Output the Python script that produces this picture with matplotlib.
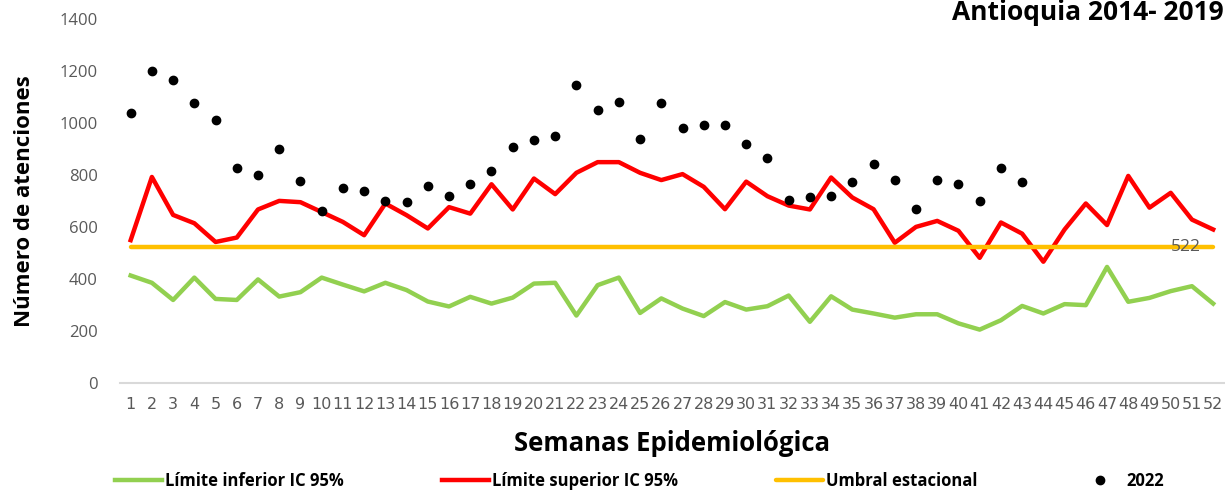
import numpy as np
import matplotlib.pyplot as plt

semanas = np.arange(1, 53)

limite_inferior = [414, 386, 320, 406, 324, 320, 399, 333, 350, 406,
                   379, 353, 386, 358, 314, 295, 332, 306, 329, 383,
                   386, 260, 377, 406, 270, 326, 287, 258, 312, 283,
                   296, 337, 236, 334, 283, 268, 252, 265, 265, 230,
                   206, 242, 297, 268, 304, 300, 447, 313, 328, 354,
                   373, 306]

limite_superior = [550, 793, 647, 615, 543, 560, 668, 701, 696, 658,
                   620, 569, 691, 646, 595, 677, 652, 765, 668, 787,
                   727, 809, 850, 850, 809, 781, 804, 755, 669, 775,
                   719, 683, 668, 791, 714, 669, 540, 601, 624, 586,
                   482, 618, 575, 467, 591, 691, 608, 797, 675, 732,
                   629, 591]

umbral = 522

casos_2022 = [1038, 1200, 1165, 1077, 1012, 827, 800, 900, 777, 662,
              750, 738, 700, 696, 758, 719, 765, 815, 910, 935,
              952, 1146, 1050, 1080, 938, 1076, 980, 992, 992, 918,
              864, 706, 715, 720, 772, 843, 781, 669, 781, 765,
              702, 826, 772]

plt.rcParams['font.family'] = ['Open Sans', 'DejaVu Sans']

fig = plt.figure(figsize=(12.25, 4.9), dpi=100)
ax = fig.add_axes([0.098, 0.218, 0.901, 0.743])

ax.plot(semanas, limite_inferior, color='#92d050', lw=3.2, label='Límite inferior IC 95%')
ax.plot(semanas, limite_superior, color='#ff0000', lw=3.2, label='Límite superior IC 95%')
ax.plot(semanas, [umbral] * len(semanas), color='#ffc000', lw=3.2,
        solid_capstyle='round', label='Umbral estacional')
ax.plot(semanas[:len(casos_2022)], casos_2022, 'o', color='black', ms=6,
        label='2022')
ax.text(semanas[-1] - 0.6, umbral, str(umbral), color='#595959', fontsize=12.5,
        ha='right', va='center')

ax.set_xlim(0.5, 52.5)
ax.set_ylim(0, 1400)
ax.set_yticks(range(0, 1401, 200))
ax.set_xticks(semanas)
ax.set_xticklabels([str(s) for s in semanas],
                   family=['Liberation Sans Narrow', 'DejaVu Sans'])
ax.tick_params(axis='both', length=0, labelcolor='#595959')
ax.tick_params(axis='x', pad=10, labelsize=11.5)
ax.tick_params(axis='y', pad=16, labelsize=12)
for s in ['top', 'right', 'left']:
    ax.spines[s].set_visible(False)
ax.spines['bottom'].set_color('#d9d9d9')
ax.spines['bottom'].set_linewidth(1.5)

ax.set_xlabel('Semanas Epidemiológica', fontsize=18.5, fontweight='bold', labelpad=13)
ax.set_ylabel('Número de atenciones', fontsize=16, fontweight='bold', labelpad=18)

fig.text(0.999, 0.959, 'Antioquia 2014- 2019', fontsize=19, fontweight='bold',
         ha='right', va='baseline')

fig.legend(loc='lower center', bbox_to_anchor=(0.522, -0.03), ncol=4,
           frameon=False, prop={'weight': 'bold', 'size': 12},
           columnspacing=5.9, handlelength=2.8, handletextpad=0.2)

fig.savefig('out.png', dpi=100)
